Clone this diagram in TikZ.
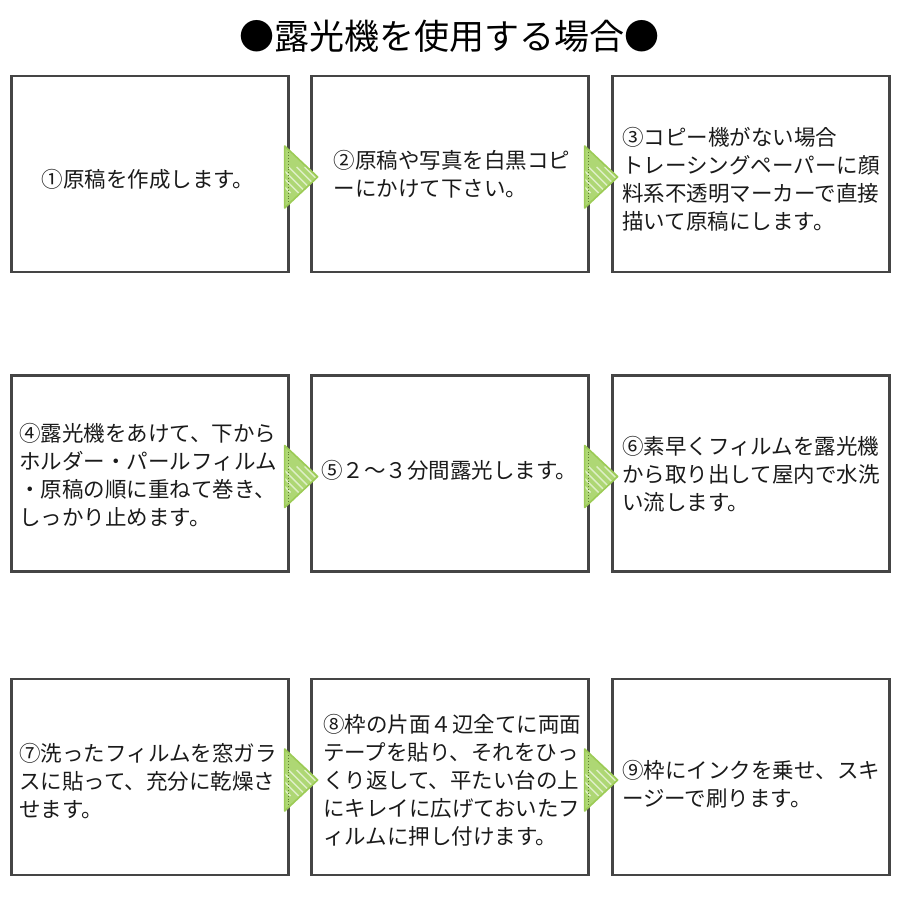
\documentclass[tikz,border=0pt]{standalone}
\usepackage{fontspec}
\setmainfont{Noto Sans CJK JP}
\usetikzlibrary{calc}
\definecolor{boxline}{HTML}{454545}
\definecolor{arrowfill}{HTML}{AED774}
\definecolor{arrowedge}{HTML}{9CCB55}
\definecolor{arrowdot}{HTML}{5E7F2E}
\definecolor{txt}{HTML}{1A1A1A}
\tikzset{
  stepbox/.style={draw=boxline, line width=2.3pt, minimum width=277pt, minimum height=196pt, inner sep=0pt},
  steptext/.style={inner sep=0pt, align=left, text=txt, font=\fontsize{21.5}{28}\selectfont},
  greentri/.pic={
    \fill[arrowfill] (0,-31) -- (33,0) -- (0,31) -- cycle;
    \begin{scope}
      \clip (0,-31) -- (33,0) -- (0,31) -- cycle;
      \foreach \i in {-60,-52,...,40}
        \draw[white, line width=1.3pt, opacity=0.6] (\i,-10) -- ++(26,26);
    \end{scope}
    \draw[arrowedge, line width=1.6pt, line join=round] (0,-31) -- (33,0) -- (0,31) -- cycle;
    \draw[arrowdot, line width=0.9pt, dotted] (4,-25) -- (4,25);
  }
}
\begin{document}
\begin{tikzpicture}[x=1pt,y=-1pt]
\useasboundingbox (0,0) rectangle (900,900);
\node[font=\fontsize{35}{40}\selectfont, text=black] (title) at (449,36) {●露光機を使用する場合●};
% boxes
\node[stepbox] (b1) at (150,174) {};
\node[stepbox] (b2) at (450,174) {};
\node[stepbox] (b3) at (751,174) {};
\node[stepbox] (b4) at (150,473.5) {};
\node[stepbox] (b5) at (450,473.5) {};
\node[stepbox] (b6) at (751,473.5) {};
\node[stepbox] (b7) at (150,777) {};
\node[stepbox] (b8) at (450,777) {};
\node[stepbox] (b9) at (751,777) {};
% texts
\node[steptext] (t1) at ($(b1.center)+(-2,5)$) {①原稿を作成します。};
\node[steptext] (t2) at ($(b2.center)+(2,0)$) {②原稿や写真を白黒コピ\\ーにかけて下さい。};
\node[steptext] (t3) at ($(b3.center)+(0,5)$) {③コピー機がない場合\\ トレーシングペーパーに顔\\料系不透明マーカーで直接\\描いて原稿にします。};
\node[steptext] (t4) at ($(b4.center)+(-2,2)$) {④露光機をあけて、下から\\ホルダー・パールフィルム\\・原稿の順に重ねて巻き、\\しっかり止めます。};
\node[steptext] (t5) at ($(b5.center)+(-1,-3)$) {⑤２～３分間露光します。};
\node[steptext] (t6) at ($(b6.center)+(0,1)$) {⑥素早くフィルムを露光機\\から取り出して屋内で水洗\\い流します。};
\node[steptext] (t7) at ($(b7.center)+(-2,4)$) {⑦洗ったフィルムを窓ガラ\\スに貼って、充分に乾燥さ\\せます。};
\node[steptext] (t8) at ($(b8.center)+(2,3)$) {⑧枠の片面４辺全てに両面\\テープを貼り、それをひっ\\くり返して、平たい台の上\\にキレイに広げておいたフ\\ィルムに押し付けます。};
\node[steptext] (t9) at ($(b9.center)+(0,7)$) {⑨枠にインクを乗せ、スキ\\ージーで刷ります。};
% arrows
\foreach \a in {b1,b2,b4,b5,b7,b8}
  \pic at ($(\a.east)+(-5,3)$) {greentri};
\end{tikzpicture}
\end{document}
